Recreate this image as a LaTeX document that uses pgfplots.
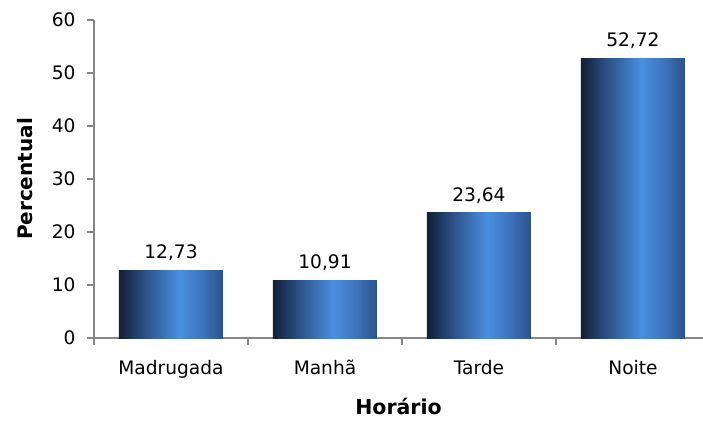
\documentclass[border=0pt]{standalone}
\usepackage{fontspec}
\setmainfont{DejaVu Sans}
\usepackage{pgfplots}
\pgfplotsset{compat=1.18}

\definecolor{axisgray}{RGB}{134,134,134}
% tikz maps 25bp..75bp of a shading onto the path
\pgfdeclarehorizontalshading{barshade}{100bp}{
  rgb(0bp)=(0.07,0.12,0.21);
  rgb(25bp)=(0.07,0.12,0.21);
  rgb(37bp)=(0.17,0.31,0.52);
  rgb(54bp)=(0.29,0.56,0.88);
  rgb(65bp)=(0.24,0.45,0.74);
  rgb(75bp)=(0.17,0.32,0.55);
  rgb(100bp)=(0.17,0.32,0.55)}

\pgfplotsset{bar/.style={draw=none, shading=barshade, bar shift=0pt}}

\begin{document}
\begin{tikzpicture}
\useasboundingbox (-94pt,-83pt) rectangle (609pt,338pt);
\begin{axis}[
    at={(0,0)}, anchor=south west,
    scale only axis,
    width=609pt, height=318pt,
    ybar, bar width=104pt,
    xmin=-0.5, xmax=3.455,
    ymin=0, ymax=60,
    ytick={0,10,...,60},
    xtick={0,1,2,3},
    xticklabels={Madrugada,Manhã,Tarde,Noite},
    minor xtick={-0.5,0.5,1.5,2.5,3.5},
    axis x line*=bottom,
    axis y line*=left,
    axis line style={axisgray, line width=2pt, -},
    tick align=outside,
    major tick length=7pt,
    minor tick length=7pt,
    xtick style={draw=none},
    minor x tick style={draw=axisgray, line width=1.5pt},
    y tick style={axisgray, line width=1.5pt},
    ticklabel style={font=\fontsize{18.6}{21}\selectfont},
    /pgf/number format/assume math mode=true,
    yticklabel style={xshift=-8pt},
    xticklabel style={yshift=-12pt},
    xlabel={\textbf{Horário}},
    ylabel={\textbf{Percentual}},
    every axis x label/.style={at={(axis description cs:0.5,-0.2420)}, anchor=base,
      inner sep=0pt, font=\fontsize{20.5}{22}\selectfont},
    every axis y label/.style={at={(axis description cs:-0.1133,0.5)}, rotate=90, anchor=center,
      font=\fontsize{20}{22}\selectfont},
    nodes near coords,
    nodes near coords style={font=\fontsize{18.6}{21}\selectfont, yshift=6pt,
      /pgf/number format/.cd, fixed, fixed zerofill, precision=2, use comma,
      assume math mode=true},
]
\addplot[bar] coordinates {(0, 12.73)};
\addplot[bar] coordinates {(1, 10.91)};
\addplot[bar] coordinates {(2, 23.64)};
\addplot[bar] coordinates {(3, 52.72)};
\end{axis}
\end{tikzpicture}
\end{document}
